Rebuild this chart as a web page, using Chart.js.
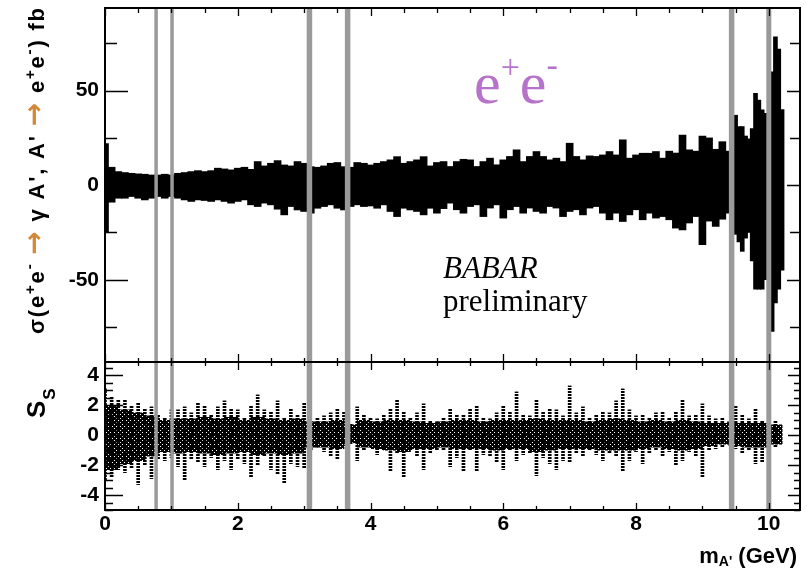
<!DOCTYPE html>
<html>
<head>
<meta charset="utf-8">
<script src="https://cdn.jsdelivr.net/npm/chart.js@4.4.1/dist/chart.umd.min.js"></script>
<style>
  body { margin: 0; background: #fff; width: 807px; height: 573px; position: relative; overflow: hidden; }
  canvas { position: absolute; left: 0; }
  #topPanel { top: 0; }
  #bottomPanel { top: 340px; }
</style>
</head>
<body>
<canvas id="topPanel" width="807" height="370"></canvas>
<canvas id="bottomPanel" width="807" height="233"></canvas>
<script>
// sigma(e+e- -> gamma A', A' -> e+e-) in fb, error-bar envelope per 0.1 GeV
const massMain = [
  0.0, 0.1, 0.2, 0.3, 0.4, 0.5, 0.6, 0.7, 0.8, 0.9,
  1.0, 1.1, 1.2, 1.3, 1.4, 1.5, 1.6, 1.7, 1.8, 1.9,
  2.0, 2.1, 2.2, 2.3, 2.4, 2.5, 2.6, 2.7, 2.8, 2.9,
  3.0, 3.1, 3.2, 3.3, 3.4, 3.5, 3.6, 3.7, 3.8, 3.9,
  4.0, 4.1, 4.2, 4.3, 4.4, 4.5, 4.6, 4.7, 4.8, 4.9,
  5.0, 5.1, 5.2, 5.3, 5.4, 5.5, 5.6, 5.7, 5.8, 5.9,
  6.0, 6.1, 6.2, 6.3, 6.4, 6.5, 6.6, 6.7, 6.8, 6.9,
  7.0, 7.1, 7.2, 7.3, 7.4, 7.5, 7.6, 7.7, 7.8, 7.9,
  8.0, 8.1, 8.2, 8.3, 8.4, 8.5, 8.6, 8.7, 8.8, 8.9,
  9.0, 9.1, 9.2, 9.3, 9.4
];
const topHiMain = [
  22, 9.5, 7.2, 6.7, 6.3, 6.0, 5.8, 5.4, 5.4, 5.8,
  5.4, 6.3, 6.7, 7.2, 7.7, 7.2, 7.7, 9.0, 8.6, 8.1,
  9.0, 9.5, 8.4, 12.5, 10.2, 11.6, 13.0, 10.7, 10.2, 12.5,
  11.6, 9.8, 9.5, 10.2, 11.6, 12.0, 9.8, 9.5, 12.0, 11.6,
  10.7, 11.6, 12.5, 13.4, 15.1, 11.6, 12.5, 13.4, 15.1, 10.2,
  12.0, 12.5, 9.9, 12.5, 13.7, 13.4, 9.9, 12.5, 14.3, 10.8,
  13.4, 15.2, 18.7, 12.5, 15.2, 17.8, 15.2, 13.4, 14.3, 12.5,
  22.2, 15.2, 13.4, 15.5, 15.2, 16.0, 17.8, 16.0, 24.0, 14.3,
  16.0, 16.9, 16.9, 17.8, 14.3, 18.0, 17.0, 26.5, 18.7, 18.0,
  26.0, 25.0, 19.0, 23.0, 18.0
];
const topLoMain = [
  -25, -9.0, -6.9, -6.9, -6.0, -6.9, -7.8, -6.9, -6.0, -6.9,
  -6.0, -6.9, -7.8, -8.6, -7.8, -8.1, -8.6, -7.8, -8.6, -9.5,
  -8.6, -7.8, -10.4, -11.3, -9.5, -10.4, -12.7, -15.7, -11.3, -13.1,
  -13.9, -14.8, -12.2, -11.3, -10.4, -12.2, -13.1, -11.3, -10.4, -11.3,
  -11.0, -12.2, -10.4, -13.9, -16.6, -12.2, -13.1, -13.9, -15.7, -12.2,
  -14.8, -12.4, -9.5, -13.0, -14.8, -11.3, -10.4, -16.6, -12.1, -10.4,
  -17.4, -13.0, -11.3, -14.8, -12.1, -13.9, -14.8, -11.3, -12.1, -16.6,
  -13.9, -13.0, -15.7, -12.1, -11.3, -14.8, -18.3, -14.8, -19.2, -15.7,
  -13.0, -18.3, -14.8, -17.4, -16.6, -18.3, -22.7, -23.6, -20.0, -16.6,
  -31.5, -19.0, -21.8, -18.0, -14.8
];

// above the Upsilon(4S) veto the points are denser and wider
const massTail = [9.50, 9.55, 9.60, 9.65, 9.70, 9.75, 9.80, 9.85, 9.90, 9.95, 10.05, 10.10, 10.15, 10.20];
const topHiTail = [37, 31, 31, 26, 24.5, 30, 48.6, 45, 39.8, 38, 59.9, 78.5, 72, 40];
const topLoTail = [-26, -30, -35, -28, -25, -40, -55, -55, -55, -50, -77.3, -62.3, -55, -45];

// signal significance S_S: spread of points per 0.1 GeV
const massBottom = [
  0.0, 0.1, 0.2, 0.3, 0.4, 0.5, 0.6, 0.7, 0.8, 0.9,
  1.0, 1.1, 1.2, 1.3, 1.4, 1.5, 1.6, 1.7, 1.8, 1.9,
  2.0, 2.1, 2.2, 2.3, 2.4, 2.5, 2.6, 2.7, 2.8, 2.9,
  3.0, 3.1, 3.2, 3.3, 3.4, 3.5, 3.6, 3.7, 3.8, 3.9,
  4.0, 4.1, 4.2, 4.3, 4.4, 4.5, 4.6, 4.7, 4.8, 4.9,
  5.0, 5.1, 5.2, 5.3, 5.4, 5.5, 5.6, 5.7, 5.8, 5.9,
  6.0, 6.1, 6.2, 6.3, 6.4, 6.5, 6.6, 6.7, 6.8, 6.9,
  7.0, 7.1, 7.2, 7.3, 7.4, 7.5, 7.6, 7.7, 7.8, 7.9,
  8.0, 8.1, 8.2, 8.3, 8.4, 8.5, 8.6, 8.7, 8.8, 8.9,
  9.0, 9.1, 9.2, 9.3, 9.4, 9.5, 9.6, 9.7, 9.8, 9.9,
  10.0, 10.1
];
const sigHi = [
  3.1, 2.6, 2.4, 2.4, 2.0, 2.2, 1.8, 1.9, 1.4, 1.2,
  1.7, 1.7, 1.9, 1.5, 2.2, 2.0, 1.4, 1.9, 2.3, 1.8,
  1.7, 1.2, 2.0, 2.7, 1.7, 1.6, 2.3, 1.2, 1.8, 1.4,
  2.2, 1.0, 1.2, 1.3, 1.5, 1.8, 1.6, 0.8, 1.9, 1.4,
  1.2, 1.1, 1.4, 1.8, 2.4, 1.6, 1.2, 1.5, 2.1, 1.0,
  0.9, 1.2, 1.8, 1.4, 1.4, 1.8, 2.0, 1.2, 1.1, 1.5,
  2.0, 1.6, 2.9, 1.4, 1.3, 2.4, 1.6, 1.8, 1.7, 1.3,
  3.3, 1.5, 1.9, 1.2, 1.4, 1.6, 1.5, 2.3, 3.1, 1.7,
  1.3, 1.4, 1.2, 1.5, 1.6, 1.2, 1.6, 2.4, 1.3, 1.4,
  2.1, 1.3, 1.1, 1.2, 0.9, 2.0, 1.4, 1.1, 1.8, 1.0,
  1.1, 1.0
];
const sigLo = [
  -3.0, -2.8, -2.3, -2.5, -2.2, -3.3, -2.0, -2.9, -1.6, -1.7,
  -1.5, -2.1, -3.0, -1.6, -1.8, -2.1, -1.5, -2.3, -1.7, -2.3,
  -1.6, -1.9, -2.8, -2.0, -1.4, -2.3, -2.6, -3.2, -1.9, -2.1,
  -2.2, -1.0, -0.8, -1.1, -1.4, -1.6, -0.7, -0.6, -1.7, -1.0,
  -0.8, -1.3, -1.0, -2.4, -1.2, -2.8, -1.0, -1.4, -2.3, -1.2,
  -1.0, -1.0, -2.1, -1.5, -2.4, -1.0, -2.4, -1.3, -1.4, -1.8,
  -2.3, -1.0, -1.7, -1.3, -1.2, -2.7, -1.5, -1.9, -2.3, -1.7,
  -1.8, -1.2, -1.4, -1.0, -1.3, -1.7, -1.2, -1.4, -2.4, -1.7,
  -1.1, -1.9, -1.2, -1.0, -1.4, -1.1, -2.0, -1.7, -1.1, -1.4,
  -2.8, -1.0, -0.9, -0.8, -0.6, -0.9, -1.2, -1.0, -1.9, -1.8,
  -0.8, -0.8
];

// dense core of the S_S points, per 0.2 GeV
const massCore = [
  0.1, 0.3, 0.5, 0.7, 0.9, 1.1, 1.3, 1.5, 1.7, 1.9,
  2.1, 2.3, 2.5, 2.7, 2.9, 3.1, 3.3, 3.5, 3.7, 3.9,
  4.1, 4.3, 4.5, 4.7, 4.9, 5.1, 5.3, 5.5, 5.7, 5.9,
  6.1, 6.3, 6.5, 6.7, 6.9, 7.1, 7.3, 7.5, 7.7, 7.9,
  8.1, 8.3, 8.5, 8.7, 8.9, 9.1, 9.3, 9.5, 9.7, 9.9,
  10.1
];
const coreHi = [
  2.0, 1.7, 1.5, 1.3, 1.0, 1.1, 1.1, 1.2, 1.1, 1.2,
  1.0, 1.2, 1.1, 1.0, 1.1, 0.9, 0.9, 1.0, 0.7, 1.0,
  0.9, 1.0, 1.0, 0.9, 0.8, 0.9, 1.0, 1.0, 0.9, 1.0,
  1.0, 1.0, 1.1, 1.0, 1.0, 1.0, 0.9, 1.0, 1.1, 1.0,
  0.9, 1.0, 0.9, 1.0, 0.9, 0.8, 0.8, 0.8, 0.8, 0.8,
  0.7
];
const coreLo = [
  -2.3, -1.9, -1.7, -1.4, -1.1, -1.2, -1.1, -1.2, -1.3, -1.2,
  -1.1, -1.3, -1.2, -1.3, -1.2, -0.8, -0.8, -0.9, -0.5, -0.8,
  -0.9, -1.0, -1.1, -0.9, -0.9, -0.8, -0.9, -0.9, -0.9, -1.0,
  -0.9, -0.9, -1.1, -1.0, -0.9, -0.9, -0.9, -1.0, -1.0, -1.0,
  -0.9, -0.8, -0.9, -1.0, -0.9, -0.7, -0.6, -0.7, -0.8, -0.8,
  -0.6
];

// vetoed mass regions (grey lines)
const vetoMass = [0.77, 1.01, 3.08, 3.655, 9.44, 10.0];
const vetoWidth = [3.5, 3.5, 5.5, 5.5, 5.5, 5];

const FONT = "'Liberation Sans', Arial, Helvetica, sans-serif";
const SERIF = "'Liberation Serif', 'Times New Roman', serif";
const X_MAX = 10.47;

function floatBars(xs, lo, hi) {
  return xs.map((m, i) => ({ x: m, y: [lo[i], hi[i]] }));
}

// small fill patterns so the S_S points look dotted rather than solid
function makePattern(rows) {
  const c = document.createElement('canvas');
  c.width = rows[0].length;
  c.height = rows.length;
  const g = c.getContext('2d');
  g.fillStyle = '#000';
  rows.forEach((r, y) => {
    for (let x = 0; x < r.length; x++) if (r[x] === '1') g.fillRect(x, y, 1, 1);
  });
  return document.getElementById('bottomPanel').getContext('2d').createPattern(c, 'repeat');
}

// draw text runs char by char, with optional extra spacing between chars
function drawRuns(ctx, runs, x, y, extra = 0) {
  runs.forEach(r => {
    ctx.font = r.font;
    ctx.fillStyle = r.color || '#000';
    for (const ch of r.t) {
      ctx.fillText(ch, x, y + (r.dy || 0));
      x += ctx.measureText(ch).width + extra;
    }
  });
  return x;
}

function runsWidth(ctx, runs) {
  let w = 0;
  runs.forEach(r => {
    ctx.font = r.font;
    for (const ch of r.t) w += ctx.measureText(ch).width;
  });
  return w;
}

function charCount(runs) {
  return runs.reduce((n, r) => n + [...r.t].length, 0);
}

function drawVeto(chart) {
  const { ctx, chartArea: a } = chart;
  const xs = chart.scales.x;
  ctx.save();
  ctx.strokeStyle = '#9a9a9a';
  vetoMass.forEach((m, i) => {
    const px = xs.getPixelForValue(m);
    ctx.lineWidth = vetoWidth[i];
    ctx.beginPath();
    ctx.moveTo(px, a.top);
    ctx.lineTo(px, a.bottom);
    ctx.stroke();
  });
  ctx.restore();
}

// ROOT style frame: box plus inward ticks on all four sides
function drawFrame(chart, t) {
  const { ctx, chartArea: a, scales } = chart;
  ctx.save();
  ctx.strokeStyle = '#000';
  ctx.lineWidth = 1.3;
  ctx.beginPath();
  for (let k = 0; k * 0.5 <= scales.x.max; k++) {
    const px = Math.round(scales.x.getPixelForValue(k * 0.5)) + 0.5;
    const major = k % 4 === 0;
    ctx.moveTo(px, a.top);
    ctx.lineTo(px, a.top + (major ? t.xTop[0] : t.xTop[1]));
    ctx.moveTo(px, a.bottom);
    ctx.lineTo(px, a.bottom - (major ? t.xBot[0] : t.xBot[1]));
  }
  const y = scales.y;
  for (let k = Math.ceil(y.min / t.yMinor); k * t.yMinor <= y.max; k++) {
    const v = k * t.yMinor;
    const py = Math.round(y.getPixelForValue(v)) + 0.5;
    const r = v / t.yMajor;
    const major = Math.abs(r - Math.round(r)) < 1e-6;
    ctx.moveTo(a.left, py);
    ctx.lineTo(a.left + (major ? t.yLeft[0] : t.yLeft[1]), py);
    ctx.moveTo(a.right, py);
    ctx.lineTo(a.right - (major ? t.yRight[0] : t.yRight[1]), py);
  }
  ctx.stroke();
  ctx.lineWidth = 2;
  ctx.strokeRect(a.left, a.top, a.right - a.left, a.bottom - a.top);
  ctx.restore();
}

function fitY(axis) {
  axis.width = 105;
  axis.paddingTop = 0;
  axis.paddingBottom = 0;
}

const tickFont = { family: FONT, weight: 'bold', size: 21 };

// ---------- top panel: cross section ----------
const topPlugin = {
  id: 'topDeco',
  afterDatasetsDraw(chart) {
    drawVeto(chart);
    drawFrame(chart, { xTop: [8, 5], xBot: [8, 4], yLeft: [23, 12], yRight: [13, 10], yMajor: 50, yMinor: 25 });
  },
  afterDraw(chart) {
    const ctx = chart.ctx;
    ctx.save();
    ctx.textBaseline = 'alphabetic';
    ctx.textAlign = 'left';

    // channel label
    const purple = '#b772c9';
    drawRuns(ctx, [
      { t: 'e', font: `60px ${SERIF}`, color: purple },
      { t: '+', font: `34px ${SERIF}`, color: purple, dy: -25 },
      { t: 'e', font: `60px ${SERIF}`, color: purple },
      { t: '-', font: `34px ${SERIF}`, color: purple, dy: -27 }
    ], 474, 103);

    ctx.font = `italic 31px ${SERIF}`;
    ctx.fillStyle = '#000';
    ctx.fillText('BABAR', 443, 278);
    ctx.font = `31px ${SERIF}`;
    ctx.fillText('preliminary', 443, 311);

    // y title, rotated, spread from y=334 up to the top of the axis
    const b = `bold 22px ${FONT}`, s = `bold 15px ${FONT}`;
    const arr = "bold 28px 'DejaVu Sans', sans-serif", arrow = '#d4883a';
    const runs = [
      { t: 'σ(e', font: b }, { t: '+', font: s, dy: -9 }, { t: 'e', font: b }, { t: '-', font: s, dy: -10 },
      { t: ' ', font: b }, { t: '→', font: arr, color: arrow, dy: -1 }, { t: ' γ A\', A\' ', font: b },
      { t: '→', font: arr, color: arrow, dy: -1 }, { t: ' e', font: b }, { t: '+', font: s, dy: -9 },
      { t: 'e', font: b }, { t: '-', font: s, dy: -10 }, { t: ') fb', font: b }
    ];
    const span = 326;
    const n = charCount(runs);
    const extra = Math.max(0, (span - runsWidth(ctx, runs)) / (n - 1));
    ctx.translate(44, 8 + span);
    ctx.rotate(-Math.PI / 2);
    drawRuns(ctx, runs, 0, 0, extra);
    ctx.restore();
  }
};

new Chart(document.getElementById('topPanel').getContext('2d'), {
  type: 'bar',
  data: {
    datasets: [
      {
        data: floatBars(massMain, topLoMain, topHiMain),
        backgroundColor: '#000',
        barThickness: 7,
        grouped: false,
        borderWidth: 0
      },
      {
        data: floatBars(massTail, topLoTail, topHiTail),
        backgroundColor: '#000',
        barThickness: 4,
        grouped: false,
        borderWidth: 0
      }
    ]
  },
  options: {
    responsive: false,
    animation: false,
    layout: { padding: { top: 8, right: 7, bottom: 8, left: 0 } },
    plugins: { legend: { display: false }, tooltip: { enabled: false } },
    scales: {
      x: { type: 'linear', min: 0, max: X_MAX, offset: false, display: false },
      y: {
        min: -93.5,
        max: 93.7,
        ticks: { stepSize: 50, includeBounds: false, font: tickFont, color: '#000', padding: 6 },
        grid: { display: false, drawTicks: false },
        border: { display: false },
        afterFit: fitY
      }
    }
  },
  plugins: [topPlugin]
});

// ---------- bottom panel: significance ----------
const streakFill = makePattern(['1', '1', '0']);
const coreFill = makePattern(['1101', '1111', '0111', '1111']);

const bottomPlugin = {
  id: 'bottomDeco',
  afterDatasetsDraw(chart) {
    drawVeto(chart);
    drawFrame(chart, { xTop: [8, 4], xBot: [7, 4], yLeft: [18, 8], yRight: [12, 6], yMajor: 2, yMinor: 0.5 });
  },
  afterDraw(chart) {
    const ctx = chart.ctx;
    ctx.save();
    ctx.textBaseline = 'alphabetic';
    ctx.textAlign = 'left';

    // x title, right aligned
    const runs = [
      { t: 'm', font: `bold 22px ${FONT}` },
      { t: 'A\'', font: `bold 14px ${FONT}`, dy: 3 },
      { t: ' (GeV)', font: `bold 22px ${FONT}` }
    ];
    drawRuns(ctx, runs, 797 - runsWidth(ctx, runs), 563 - 340);

    // S_S
    ctx.translate(45, 418 - 340);
    ctx.rotate(-Math.PI / 2);
    const x = drawRuns(ctx, [{ t: 'S', font: `bold 26px ${FONT}` }], 0, 0);
    drawRuns(ctx, [{ t: 'S', font: `bold 17px ${FONT}` }], x + 1, 10);
    ctx.restore();
  }
};

new Chart(document.getElementById('bottomPanel').getContext('2d'), {
  type: 'bar',
  data: {
    datasets: [
      {
        data: floatBars(massBottom, sigLo, sigHi),
        backgroundColor: streakFill,
        barThickness: 3,
        grouped: false,
        borderWidth: 0
      },
      {
        data: floatBars(massCore, coreLo, coreHi),
        backgroundColor: coreFill,
        barThickness: 13.5,
        grouped: false,
        borderWidth: 0
      }
    ]
  },
  options: {
    responsive: false,
    animation: false,
    layout: { padding: { top: 22, right: 7, bottom: 0, left: 0 } },
    plugins: { legend: { display: false }, tooltip: { enabled: false } },
    scales: {
      x: {
        type: 'linear',
        min: 0,
        max: X_MAX,
        offset: false,
        ticks: { stepSize: 2, includeBounds: false, font: tickFont, color: '#000', padding: 2, maxRotation: 0 },
        grid: { display: false, drawTicks: false },
        border: { display: false },
        afterFit(axis) {
          axis.height = 63;
          axis.paddingLeft = 0;
          axis.paddingRight = 0;
        }
      },
      y: {
        min: -5,
        max: 4.9,
        ticks: { stepSize: 2, includeBounds: false, font: tickFont, color: '#000', padding: 6 },
        grid: { display: false, drawTicks: false },
        border: { display: false },
        afterFit: fitY
      }
    }
  },
  plugins: [bottomPlugin]
});
</script>
</body>
</html>
